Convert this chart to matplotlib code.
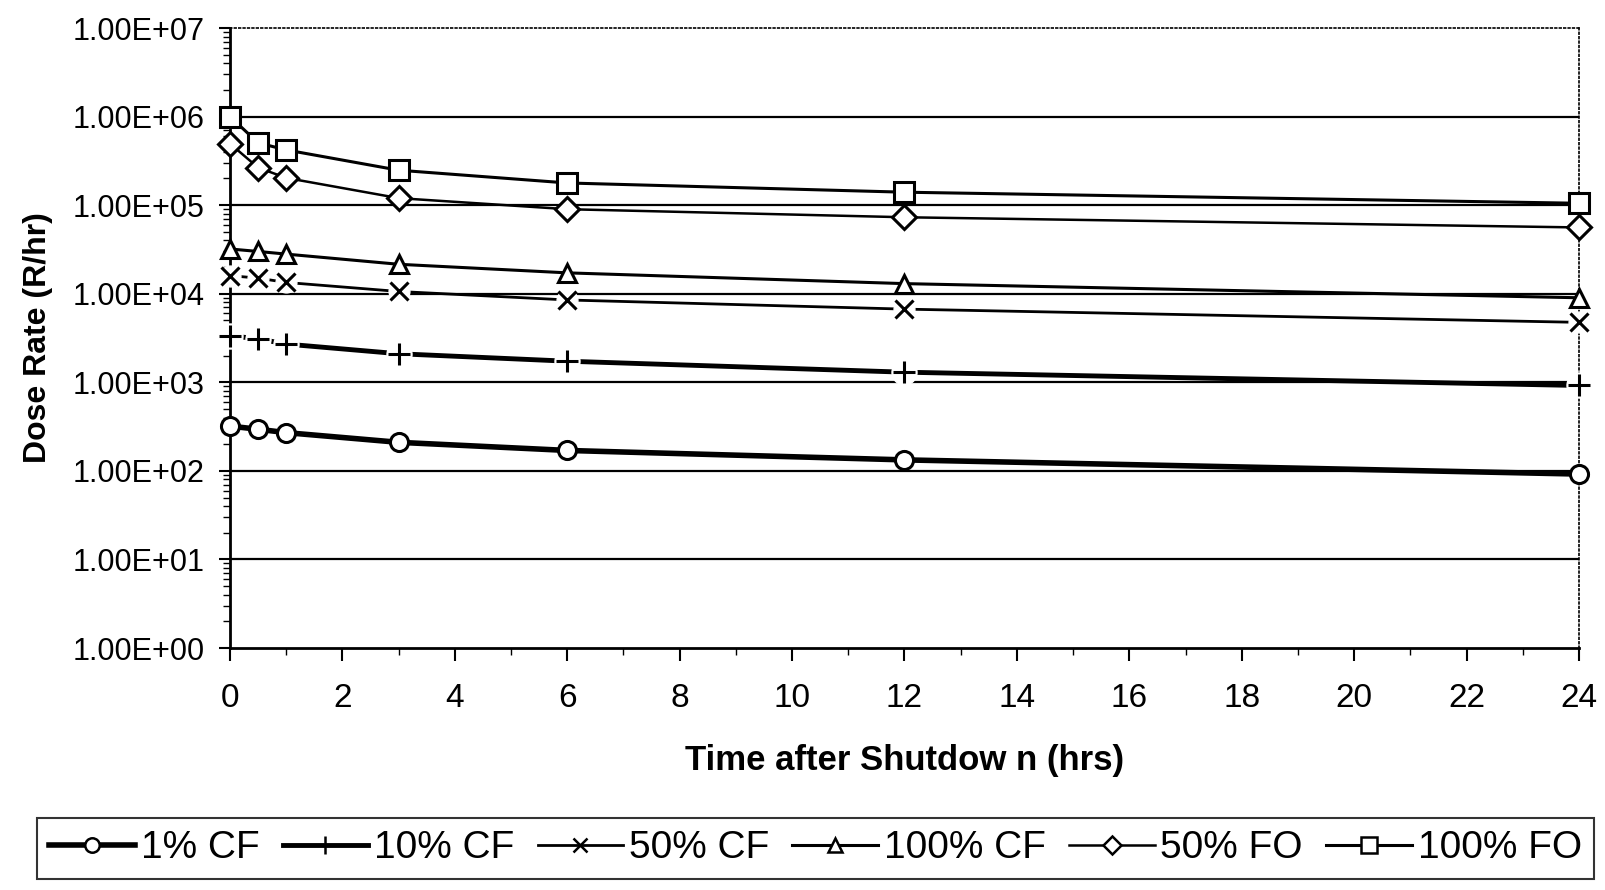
import matplotlib
matplotlib.use("Agg")
import matplotlib.pyplot as plt
from matplotlib.lines import Line2D
from matplotlib.ticker import FixedLocator, FuncFormatter, LogLocator, NullFormatter

plt.rcParams['font.family'] = ['Liberation Sans', 'DejaVu Sans']

# data
hours = [0, 0.5, 1, 3, 6, 12, 24]
cf_1 = [320, 295, 270, 210, 170, 133, 92]
cf_10 = [3350, 3100, 2700, 2100, 1730, 1300, 920]
cf_50 = [16000, 15000, 13400, 10600, 8500, 6700, 4750]
cf_100 = [32000, 30000, 28000, 21500, 17200, 13000, 9000]
fo_50 = [495000, 265000, 203000, 120000, 90000, 73000, 56000]
fo_100 = [1000000, 505000, 420000, 248000, 178000, 140000, 105000]
labels = ['1% CF', '10% CF', '50% CF', '100% CF', '50% FO', '100% FO']

# style per series: marker, line width, marker size, gap around marker
styles = [
    ('o', 4.0, 13, False),
    ('+', 3.5, 16, True),
    ('x', 2.0, 13, True),
    ('^', 2.2, 13, False),
    ('D', 1.8, 12, False),
    ('s', 2.2, 14, False),
]
series = [cf_1, cf_10, cf_50, cf_100, fo_50, fo_100]

fig = plt.figure(figsize=(16.06, 8.90), dpi=100)
ax = fig.add_axes([230/1606, 1-648/890, (1579-230)/1606, (648-28)/890])

handles = []
for vals, lab, (mk, lw, ms, gap) in zip(series, labels, styles):
    ax.plot(hours, vals, color='black', lw=lw, zorder=3, solid_joinstyle='round')
    if gap:
        # white patch under the marker so the line breaks around it
        ax.plot(hours, vals, ls='none', marker='o', ms=ms + 2, mfc='white', mec='white',
                zorder=4, clip_on=False)
    ax.plot(hours, vals, ls='none', marker=mk, ms=ms, mfc='white', mec='black', mew=2.2,
            zorder=5, clip_on=False)
    handles.append(Line2D([], [], color='black', lw=lw, marker=mk, ms=ms * 0.8,
                          mfc='white', mec='black', mew=1.8, label=lab))

ax.set_yscale('log')
ax.set_ylim(1, 1e7)
ax.set_xlim(0, 24)

ax.yaxis.set_major_locator(FixedLocator([10.0 ** k for k in range(8)]))
ax.yaxis.set_minor_locator(LogLocator(base=10, subs=range(2, 10), numticks=20))
ax.yaxis.set_minor_formatter(NullFormatter())
ax.yaxis.set_major_formatter(FuncFormatter(lambda v, p: f"{v:.2E}"))
ax.set_xticks(range(0, 25, 2))
ax.set_xticks(range(1, 24, 2), minor=True)

# horizontal gridlines at each decade
for k in range(1, 7):
    ax.axhline(10.0 ** k, color='black', lw=1.6, zorder=1)

ax.tick_params(axis='y', which='major', direction='out', length=8, width=1.5, labelsize=22, pad=10)
ax.tick_params(axis='y', which='minor', direction='out', length=5, width=1.0)
ax.tick_params(axis='x', which='major', direction='out', length=9, width=1.5, labelsize=24, pad=16)
ax.tick_params(axis='x', which='minor', direction='out', length=5, width=1.0)

for s in ['left', 'bottom']:
    ax.spines[s].set_linewidth(2)
for s in ['top', 'right']:
    ax.spines[s].set_linestyle(':')
    ax.spines[s].set_linewidth(1.2)

ax.set_xlabel('Time after Shutdow n (hrs)', fontsize=25, fontweight='bold', labelpad=22)
ax.set_ylabel('Dose Rate (R/hr)', fontsize=23, fontweight='bold', labelpad=14)

leg = fig.legend(handles=handles, loc='center', ncol=6,
                 bbox_to_anchor=((38 + 1593) / 2 / 1606, 1 - (814 + 883) / 2 / 890),
                 fontsize=28, handlelength=2.2, handletextpad=0.15, columnspacing=0.6,
                 borderpad=0.32, frameon=True, fancybox=False)
leg.get_frame().set_edgecolor('black')
leg.get_frame().set_linewidth(1.5)

fig.savefig('out.png', dpi=100, facecolor='white')
